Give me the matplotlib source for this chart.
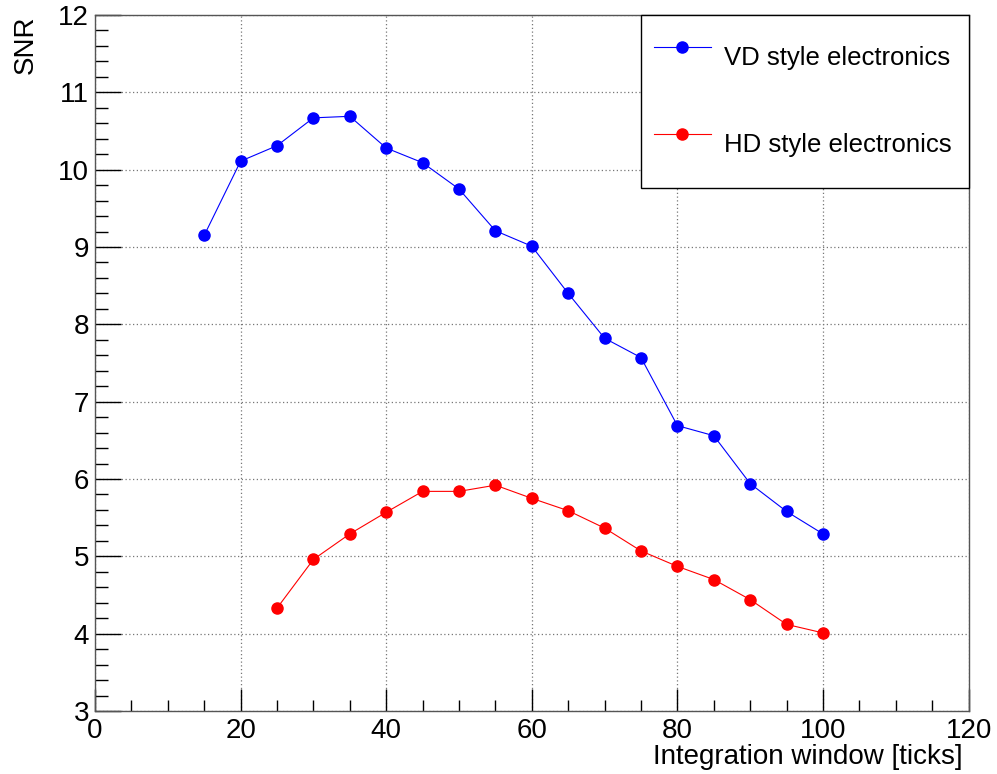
import numpy as np
import matplotlib
matplotlib.use("Agg")
import matplotlib.pyplot as plt
from matplotlib.ticker import MultipleLocator

plt.rcParams['font.family'] = ['Liberation Sans', 'DejaVu Sans']

# integration window [ticks] and SNR
vd_window = [15, 20, 25, 30, 35, 40, 45, 50, 55, 60, 65, 70, 75, 80, 85, 90, 95, 100]
vd_snr = [9.15, 10.11, 10.31, 10.67, 10.69, 10.28, 10.09, 9.75, 9.21, 9.01,
          8.40, 7.82, 7.57, 6.69, 6.56, 5.94, 5.58, 5.29]

hd_window = [25, 30, 35, 40, 45, 50, 55, 60, 65, 70, 75, 80, 85, 90, 95, 100]
hd_snr = [4.33, 4.96, 5.29, 5.57, 5.84, 5.84, 5.92, 5.75, 5.59, 5.365,
          5.07, 4.87, 4.70, 4.44, 4.12, 4.01]

labels = ["VD style electronics", "HD style electronics"]

W, H = 997, 774
fig = plt.figure(figsize=(W / 100, H / 100), dpi=100)
ax = fig.add_axes([95 / W, 1 - 711 / H, (968.6 - 95) / W, (711 - 15) / H])

ax.plot(vd_window, vd_snr, '-o', color='blue', lw=0.8, ms=8, label=labels[0], zorder=3)
ax.plot(hd_window, hd_snr, '-o', color='red', lw=0.8, ms=8, label=labels[1], zorder=3)

ax.set_xlim(0, 120)
ax.set_ylim(3, 12)
ax.xaxis.set_major_locator(MultipleLocator(20))
ax.xaxis.set_minor_locator(MultipleLocator(5))
ax.yaxis.set_major_locator(MultipleLocator(1))
ax.yaxis.set_minor_locator(MultipleLocator(0.2))

ax.tick_params(axis='x', which='major', direction='in', length=16, width=1, pad=5,
               labelsize=20, top=False)
ax.tick_params(axis='x', which='minor', direction='in', length=8, width=1, top=False)
ax.tick_params(axis='y', which='major', direction='in', length=19, width=1, pad=4.3,
               labelsize=20, right=False)
ax.tick_params(axis='y', which='minor', direction='in', length=9.5, width=1, right=False)

ax.grid(True, which='major', linestyle=(0, (1, 2)), color='#777777', lw=0.9)
ax.set_axisbelow(True)
for s in ax.spines.values():
    s.set_color('#555555')
    s.set_linewidth(1)

fig.text(26 / W, 1 - 15 / H, "SNR", rotation=90, ha='center', va='top', fontsize=20)
fig.text(963 / W, 1 - 757 / H, "Integration window [ticks]", ha='right', va='center',
         fontsize=20)

leg = ax.legend(loc='upper left', bbox_to_anchor=((641 - 95) / 873.6, 0, 1 - (641 - 95) / 873.6, 1),
                mode='expand', borderaxespad=0, fontsize=18.5, fancybox=False,
                framealpha=1, edgecolor='black', handlelength=2.22, handletextpad=0.5,
                handleheight=3.24, labelspacing=1.03, borderpad=0.5)
leg.get_frame().set_linewidth(1)

fig.savefig("out.png", dpi=100)
